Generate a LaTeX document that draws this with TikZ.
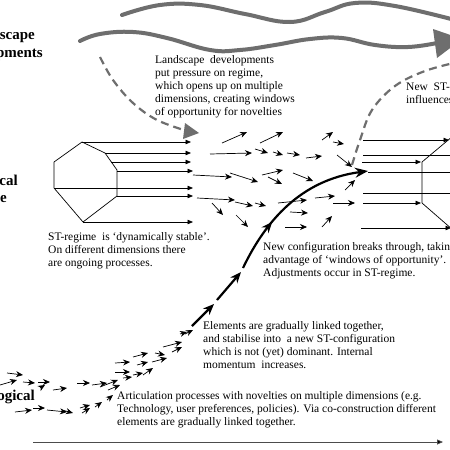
\documentclass[tikz,border=0pt]{standalone}
\usepackage{fontspec}
\setmainfont{Liberation Serif}
\usetikzlibrary{arrows.meta,decorations.markings}
\definecolor{wavegray}{HTML}{6E6E6E}
\begin{document}
\begin{tikzpicture}[x=1pt,y=-1pt,
  lbl/.style={font=\fontsize{15}{18}\selectfont\bfseries, inner sep=0},
  txt/.style={font=\fontsize{11.5}{13}\selectfont, align=left, anchor=north west, inner sep=0},
  wave/.style={line width=4pt, draw=wavegray, line cap=round},
  dasharrow/.style={draw=wavegray, line width=2.2pt, dash pattern=on 8pt off 5pt},
  reg/.style={line width=0.7pt, -{Triangle[length=5.5pt,width=4.5pt]}},
  plain/.style={line width=0.7pt},
  nich/.style={line width=0.7pt, -{Stealth[length=7pt,width=6pt]}},
  seg/.style={line width=2.2pt, -{Stealth[length=11pt,width=9pt]}}
]
\useasboundingbox (0,0) rectangle (450,450);
\clip (0,0) rectangle (450,450);
\fill[white] (0,0) rectangle (450,450);

% landscape waves
\draw[wave] plot[smooth, tension=0.7] coordinates {(122,15)(160,5)(200,5)(245,14)(290,22)(325,12)(355,3)(395,6)(455,20)};
\draw[wave] plot[smooth, tension=0.7] coordinates {(80,41)(100,34)(133,32)(167,38)(210,50)(240,50)(275,45)(310,39)(342,38)(375,45)(408,47)(437,43)};
\fill[wavegray] (433,29) -- (437,58) -- (462,39) -- cycle;

% dashed arrows
\draw[dasharrow] plot[smooth, tension=0.6] coordinates {(100,57)(113,80)(133,103)(157,120)(187,131)};
\fill[wavegray] (185,123) -- (199,133) -- (183,139) -- cycle;
\draw[dasharrow] plot[smooth, tension=0.6] coordinates {(352,165)(360,140)(372,110)(395,86)(425,71)(458,62)};

% labels
\node[lbl, anchor=base east] (land) at (35,39) {Landscape};
\node[lbl, anchor=base east] (dev) at (43,57) {developments};
\node[lbl, anchor=base east] (soc) at (18,185) {Socio-technical};
\node[lbl, anchor=base east] (regl) at (7,202) {regime};
\node[lbl, anchor=base east] (tech) at (35,400) {Technological};

% texts
\node[txt] (ta) at (155,55) {Landscape\ \ developments\\put pressure on regime,\\which opens up on multiple\\dimensions, creating windows\\of opportunity for novelties};
\node[txt] (tb) at (406,83) {New\ \ ST-regime,\\influences landscape};
\node[txt] (tc) at (48,232) {ST-regime\ \ is `dynamically stable'.\\On different dimensions there\\are ongoing processes.};
\node[txt] (td) at (263,242) {New configuration breaks through, taking\\advantage of `windows of opportunity'.\\Adjustments occur in ST-regime.};
\node[txt] (te) at (203,321) {Elements are gradually linked together,\\and stabilise into\ \ a new ST-configuration\\which is not (yet) dominant. Internal\\momentum\ \ increases.};
\node[txt] (tf) at (117,391) {Articulation processes with novelties on multiple dimensions (e.g.\\Technology, user preferences, policies). Via co-construction different\\elements are gradually linked together.};

% old regime
\draw[plain] (82,142) -- (105,153) -- (117,170) -- (117,196) -- (83,222) -- (54,188) -- (54,162) -- cycle;
\draw[reg] (82,142) -- (191,142);
\draw[reg] (105,153) -- (191,153);
\draw[reg] (111,162) -- (191,162);
\draw[reg] (117,171) -- (193,171);
\draw[reg] (54,188) -- (193,188);
\draw[reg] (117,196) -- (193,196);
\draw[reg] (83,222) -- (193,222);

% new regime
\draw[plain] (453,136) -- (422,162) -- (422,203) -- (453,230);
\draw[reg] (363,140) -- (449,140);
\draw[reg] (363,155) -- (458,155);
\draw[reg] (362,162) -- (421,162);
\draw[reg] (368,172) -- (458,172);
\draw[reg] (363,193) -- (458,193);
\draw[reg] (363,203) -- (421,203);
\draw[reg] (361,228) -- (451,228);

% niche arrows (middle)
\foreach \a/\b/\c/\d in {
 222/143/247/132, 260/143/283/132, 210/154/252/153, 255/149/268/153,
 273/152/283/155, 287/153/300/155, 306/158/322/156, 322/140/333/132,
 333/142/344/144, 337/155/352/167, 193/175/232/177, 230/173/258/182,
 262/175/283/170, 268/177/282/184, 293/173/313/181, 197/198/235/200,
 235/202/253/206, 255/203/266/206, 212/203/223/215, 236/215/248/227,
 278/203/307/200, 290/212/308/213, 315/198/335/196, 333/203/355/203,
 285/227/307/227, 322/227/332/216, 345/190/355/180}
 \draw[nich] (\a,\b) -- (\c,\d);

% niche arrows (lower)
\foreach \a/\b/\c/\d in {
 7/373/23/375, 0/385/17/380, 23/382/35/383, 38/382/50/382, 40/388/45/385,
 53/390/67/388, 77/383/90/383, 92/385/107/383, 100/387/118/380,
 108/390/120/385, 115/363/130/362, 115/372/130/372, 133/357/148/353,
 137/365/148/362, 123/378/132/377, 133/375/143/373, 143/375/153/368,
 152/362/167/358, 155/353/165/355, 163/347/182/342, 172/352/182/347,
 180/334/187/332, 185/334/193/330,
 15/412/32/410, 33/408/45/408, 47/410/67/412, 62/410/73/413,
 80/408/90/405, 82/413/90/408, 95/407/102/402, 107/400/113/395}
 \draw[nich] (\a,\b) -- (\c,\d);

% main trajectory
\draw[seg] (192,326) -- (214,304);
\draw[seg] (217,300) -- (241,272);
\draw[line width=2.2pt, -{Stealth[length=13pt,width=10pt]},
  postaction={decorate},
  decoration={markings, mark=at position 0.33 with {\arrow{Stealth[length=11pt,width=9pt]}}}]
  (243,268) .. controls (265,222) and (300,180) .. (368,171);

% time axis
\draw[line width=0.8pt, draw=black!70, -{Triangle[length=6pt,width=5pt,fill=black]}] (33,442) -- (443,442);
\end{tikzpicture}
\end{document}
